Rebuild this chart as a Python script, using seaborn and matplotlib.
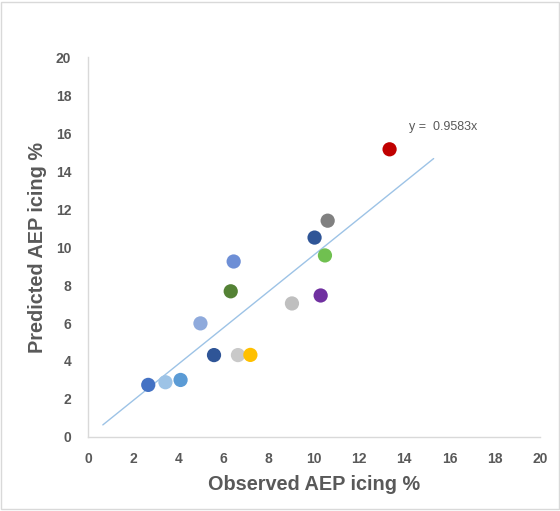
import matplotlib
matplotlib.use("Agg")
import matplotlib.pyplot as plt
import numpy as np
import pandas as pd
import seaborn as sns

# Observed vs predicted AEP icing loss per site
observed = [2.67, 3.43, 4.10, 4.98, 5.58, 6.45, 6.32, 6.64, 7.19, 9.03,
            10.03, 10.30, 10.49, 10.61, 13.35]
predicted = [2.74, 2.88, 3.00, 5.98, 4.31, 9.24, 7.67, 4.31, 4.32, 7.03,
             10.50, 7.45, 9.56, 11.39, 15.15]
site_colors = ["#4472C4", "#9DC3E6", "#5B9BD5", "#8FAADC", "#2F5597",
               "#6E8FD6", "#548235", "#C9C9C9", "#FFC000", "#BFBFBF",
               "#2F5597", "#7030A0", "#70C050", "#808080", "#C00000"]

# trendline through origin, drawn over the span of the data
slope = 0.9583
trend_x = [0.66, 15.3]

GREY = "#595959"

sns.set_theme(style="white")
plt.rcParams["font.family"] = ["Liberation Sans", "DejaVu Sans"]

df = pd.DataFrame({"obs": observed, "pred": predicted,
                   "site": [str(i) for i in range(len(observed))]})

fig = plt.figure(figsize=(5.6, 5.11), dpi=100)
ax = fig.add_axes([0.157, 0.145, 0.807, 0.743])

tx = np.array(trend_x)
sns.lineplot(x=tx, y=slope * tx, color="#9DC3E6", lw=1, ax=ax, zorder=1)
sns.scatterplot(data=df, x="obs", y="pred", hue="site",
                palette=site_colors, s=105, edgecolor="none",
                legend=False, ax=ax, zorder=2)

ax.text(14.2, 16.3, "y =  0.9583x", color=GREY, fontsize=9,
        ha="left", va="center")

ax.set_xlim(0, 20)
ax.set_ylim(0, 20)
ax.set_xticks(range(0, 21, 2))
ax.set_yticks(range(0, 21, 2))
ax.tick_params(length=0, labelsize=10, labelcolor=GREY)
ax.tick_params(axis="x", pad=11)
ax.tick_params(axis="y", pad=12)
for lab in ax.get_xticklabels() + ax.get_yticklabels():
    lab.set_fontweight("bold")

for s in ("top", "right"):
    ax.spines[s].set_visible(False)
for s in ("left", "bottom"):
    ax.spines[s].set_color("#D9D9D9")
    ax.spines[s].set_linewidth(1)

ax.set_xlabel("Observed AEP icing %", fontsize=14.3, fontweight="bold",
              color=GREY, labelpad=6)
ax.set_ylabel("Predicted AEP icing %", fontsize=14.3, fontweight="bold",
              color=GREY, labelpad=6)

# thin frame around the whole figure
fig.patches.append(plt.Rectangle((0.002, 0.003), 0.996, 0.994,
                                 transform=fig.transFigure, fill=False,
                                 edgecolor="#D9D9D9", lw=1))

fig.savefig("out.png", dpi=100)
